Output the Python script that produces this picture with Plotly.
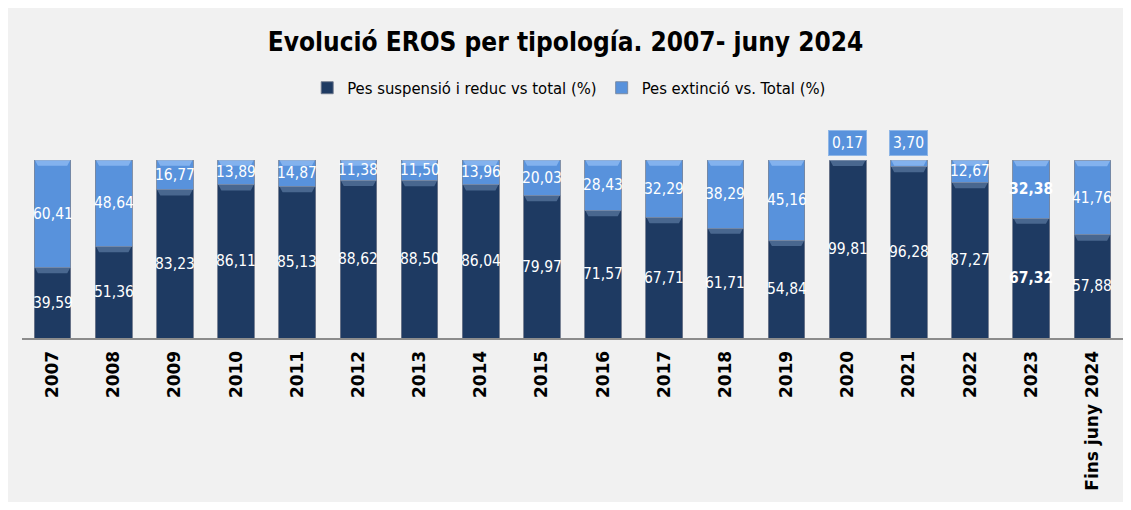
import plotly.graph_objects as go

years = ["2007", "2008", "2009", "2010", "2011", "2012", "2013", "2014", "2015",
         "2016", "2017", "2018", "2019", "2020", "2021", "2022", "2023", "Fins juny 2024"]
suspensio = [39.59, 51.36, 83.23, 86.11, 85.13, 88.62, 88.50, 86.04, 79.97,
             71.57, 67.71, 61.71, 54.84, 99.81, 96.28, 87.27, 67.32, 57.88]
extincio = [60.41, 48.64, 16.77, 13.89, 14.87, 11.38, 11.50, 13.96, 20.03,
            28.43, 32.29, 38.29, 45.16, 0.17, 3.70, 12.67, 32.38, 41.76]
bold_years = ["2023"]

DARK = "#1e3a62"
LIGHT = "#5892dc"
FONT_C = "DejaVu Sans Condensed"

def fmt(v):
    return f"{v:.2f}".replace(".", ",")

idx = list(range(len(years)))

fig = go.Figure()
fig.add_trace(go.Bar(
    x=idx, y=suspensio, name="Pes suspensió i reduc vs total (%)",
    marker=dict(color=DARK, line=dict(color="rgba(110,120,140,0.9)", width=1)),
    hoverinfo="y"))
fig.add_trace(go.Bar(
    x=idx, y=extincio, name="Pes extinció vs. Total (%)",
    marker=dict(color=LIGHT, line=dict(color="rgba(120,135,160,0.9)", width=1)),
    hoverinfo="y"))

# page offset of 8px (body margin) is accounted for in the figure size/margins
W, H = 1115, 494
ml, mr, mt, mb = 14, 0, 152, 164
ph = H - mt - mb
def px_y(p):
    return (H - mb - p) / ph

annotations = []
shapes = []
hw = 0.3
for i, (yr, s, e) in enumerate(zip(years, suspensio, extincio)):
    bold = yr in bold_years
    txt_s = f"<b>{fmt(s)}</b>" if bold else fmt(s)
    txt_e = f"<b>{fmt(e)}</b>" if bold else fmt(e)
    annotations.append(dict(x=i, y=s / 2, text=txt_s, showarrow=False,
                            font=dict(family=FONT_C, size=15.5, color="white")))
    if e >= 5:
        annotations.append(dict(x=i, y=s + e / 2, text=txt_e, showarrow=False,
                                font=dict(family=FONT_C, size=15.5, color="white")))
    else:
        annotations.append(dict(x=i, y=s + e, yshift=17, text=txt_e, showarrow=False,
                                font=dict(family=FONT_C, size=15.5, color="white"),
                                bgcolor=LIGHT, bordercolor="#8fb6e6", borderwidth=1,
                                borderpad=3))
    # bevel bands at the top of each segment
    shapes.append(dict(type="path", xref="x", yref="y", layer="above",
                       path=f"M {i-hw+0.01},{s} L {i+hw-0.01},{s} L {i+hw-0.06},{s-3.2} L {i-hw+0.06},{s-3.2} Z",
                       fillcolor="rgba(110,140,180,0.55)", line=dict(width=0)))
    if e >= 2:
        shapes.append(dict(type="path", xref="x", yref="y", layer="above",
                           path=f"M {i-hw+0.01},{s+e} L {i+hw-0.01},{s+e} L {i+hw-0.06},{s+e-3.2} L {i-hw+0.06},{s+e-3.2} Z",
                           fillcolor="rgba(160,200,250,0.6)", line=dict(width=0)))

fig.update_layout(
    barmode="stack",
    bargap=0.4,
    width=W, height=H,
    margin=dict(l=ml, r=mr, t=mt, b=mb),
    paper_bgcolor="#f1f1f1",
    plot_bgcolor="#f1f1f1",
    title=dict(text="<b>Evolució EROS per tipología. 2007- juny 2024</b>",
               x=0.5, xanchor="center", y=1 - 34 / H, yanchor="middle",
               font=dict(family=FONT_C, size=26, color="black")),
    legend=dict(orientation="h", x=0.497, xanchor="center", y=px_y(80), yanchor="middle",
                font=dict(family=FONT_C, size=16.5, color="black"),
                bgcolor="rgba(0,0,0,0)", traceorder="normal", itemwidth=30),
    xaxis=dict(range=[-0.5, len(years) - 0.5], tickmode="array", tickvals=idx, ticktext=years,
               tickangle=-90, showline=True, linecolor="#8c8c8c",
               linewidth=2, ticks="", ticklabelstandoff=4,
               tickfont=dict(family="DejaVu Sans", size=17, color="black", weight="bold"),
               showgrid=False, zeroline=False, fixedrange=True),
    yaxis=dict(range=[0, 100], visible=False, showgrid=False, zeroline=False),
    annotations=annotations,
    shapes=shapes,
    showlegend=True,
)

fig.write_html("out.html")
